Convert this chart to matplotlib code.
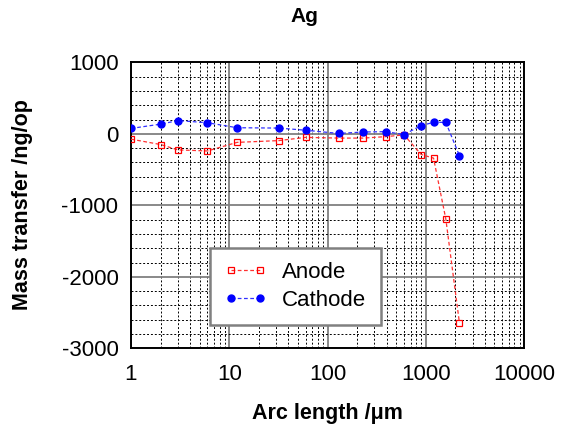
import matplotlib
matplotlib.use('Agg')
import matplotlib.pyplot as plt
from matplotlib.ticker import FixedLocator, MultipleLocator, LogLocator, NullFormatter

plt.rcParams['font.family'] = ['Liberation Sans', 'DejaVu Sans']

# arc length (um) and mass transfer (ng/op)
anode_x = [1, 2, 3, 6, 12, 32, 60, 130, 230, 390, 600, 900, 1200, 1600, 2200]
anode_y = [-75, -150, -225, -240, -120, -95, -50, -60, -60, -40, -15, -290, -340, -1190, -2640]
cathode_x = [1, 2, 3, 6, 12, 32, 60, 130, 230, 390, 600, 900, 1200, 1600, 2200]
cathode_y = [75, 135, 185, 155, 85, 80, 50, 5, 25, 30, -10, 115, 160, 160, -305]

xticks = [1, 10, 100, 1000, 10000]
yticks = [-3000, -2000, -1000, 0, 1000]

fig = plt.figure(figsize=(5.62, 4.30), dpi=100)
ax = fig.add_axes([131 / 562, 1 - 348.3 / 430, 393 / 562, 286 / 430])

ax.plot(anode_x, anode_y, color='#ff3030', linestyle=(0, (3, 2)), linewidth=0.9,
        marker='s', markersize=4.5, markerfacecolor='none', markeredgecolor='red',
        markeredgewidth=0.9, label='Anode', zorder=3)
ax.plot(cathode_x, cathode_y, color='#3030ff', linestyle=(0, (3, 2)), linewidth=0.9,
        marker='o', markersize=5, markerfacecolor='blue', markeredgecolor='blue',
        label='Cathode', zorder=3)

ax.set_xscale('log')
ax.set_xlim(1, 10000)
ax.set_ylim(-3000, 1000)
ax.xaxis.set_major_locator(FixedLocator(xticks))
ax.set_xticklabels([str(v) for v in xticks])
ax.xaxis.set_minor_locator(LogLocator(base=10, subs=range(2, 10)))
ax.xaxis.set_minor_formatter(NullFormatter())
ax.yaxis.set_major_locator(FixedLocator(yticks))
ax.set_yticklabels([str(v) for v in yticks])
ax.yaxis.set_minor_locator(MultipleLocator(200))

ax.grid(True, which='major', color='#808080', linestyle='-', linewidth=1.3, zorder=1)
ax.grid(True, which='minor', color='black', linestyle=(0, (2, 2)), linewidth=0.7, zorder=1)
ax.set_axisbelow(True)

ax.tick_params(which='both', length=0, labelsize=16)
ax.tick_params(axis='x', pad=11)
ax.tick_params(axis='y', pad=9)
for s in ax.spines.values():
    s.set_linewidth(1.4)
    s.set_color('black')

leg = ax.legend(loc='lower left', bbox_to_anchor=(0.201, 0.081), fontsize=16,
                numpoints=2, handlelength=1.9, handletextpad=0.7, borderpad=0.65,
                labelspacing=0.3, fancybox=False, framealpha=1, borderaxespad=0)
leg.get_frame().set_edgecolor('#808080')
leg.get_frame().set_linewidth(1.8)

fig.text(304 / 562, 1 - 17 / 430, 'Ag', fontsize=15, fontweight='bold', ha='center', va='center')
fig.text(327 / 562, 1 - 413 / 430, 'Arc length /\u03bcm', fontsize=15.5, fontweight='bold',
         ha='center', va='center')
fig.text(23 / 562, 1 - 205 / 430, 'Mass transfer /ng/op', fontsize=15.5, fontweight='bold',
         ha='center', va='center', rotation=90)

fig.savefig('out.png', dpi=100)
